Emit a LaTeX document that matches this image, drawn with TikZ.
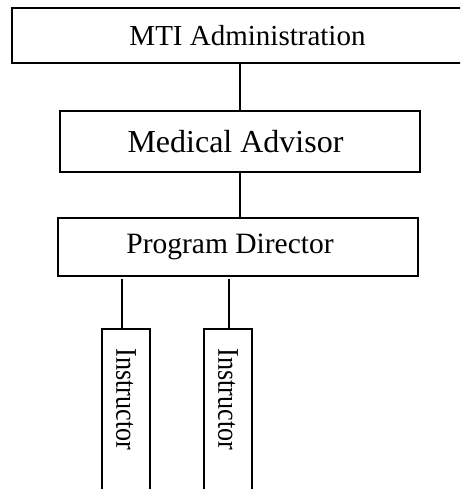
\documentclass[tikz,border=0pt]{standalone}
\usepackage{fontspec}
\setmainfont{Liberation Serif}
\usetikzlibrary{positioning}

\tikzset{
    orgbox/.style={draw, rectangle, inner sep=0pt, fill=white},
    instbox/.style={draw, rectangle, rotate=-90, anchor=west,
        minimum height=48pt, text width=170pt, align=left,
        inner xsep=20pt, inner ysep=0pt,
        font=\fontsize{30}{34}\selectfont},
}
\newcommand{\instlabel}{\scalebox{0.87}[1]{Instructor}}

\begin{document}
\begin{tikzpicture}[x=1pt, y=-1pt, line width=1.5pt]
    \useasboundingbox (0,0) rectangle (460,489);
    \clip (0,0) rectangle (460,489);

    % Top of the chart
    \node[orgbox, minimum width=471pt, minimum height=55pt,
        font=\fontsize{29}{33}\selectfont] (mti) at (247.5,35.5) {MTI Administration};
    \node[orgbox, minimum width=360pt, minimum height=61pt,
        font=\fontsize{32}{36}\selectfont] (med) at (240,141.5) {Medical Advisor\kern9pt};
    \node[orgbox, minimum width=360pt, minimum height=58pt,
        font=\fontsize{29.5}{34}\selectfont] (prog) at (238,247) {Program Director\kern16pt};

    % Instructors
    \node[instbox] (ins1) at (126,328) {\instlabel};
    \node[instbox] (ins2) at (228,328) {\instlabel};

    % Links
    \draw (mti.south -| med.north) -- (med.north);
    \draw (med.south) -- (med.south |- prog.north);
    \draw ([xshift=-4pt]ins1.west) -- ([xshift=-4pt, yshift=-2pt]ins1.west |- prog.south);
    \draw ([xshift=1pt]ins2.west) -- ([xshift=1pt, yshift=-2pt]ins2.west |- prog.south);
\end{tikzpicture}
\end{document}
